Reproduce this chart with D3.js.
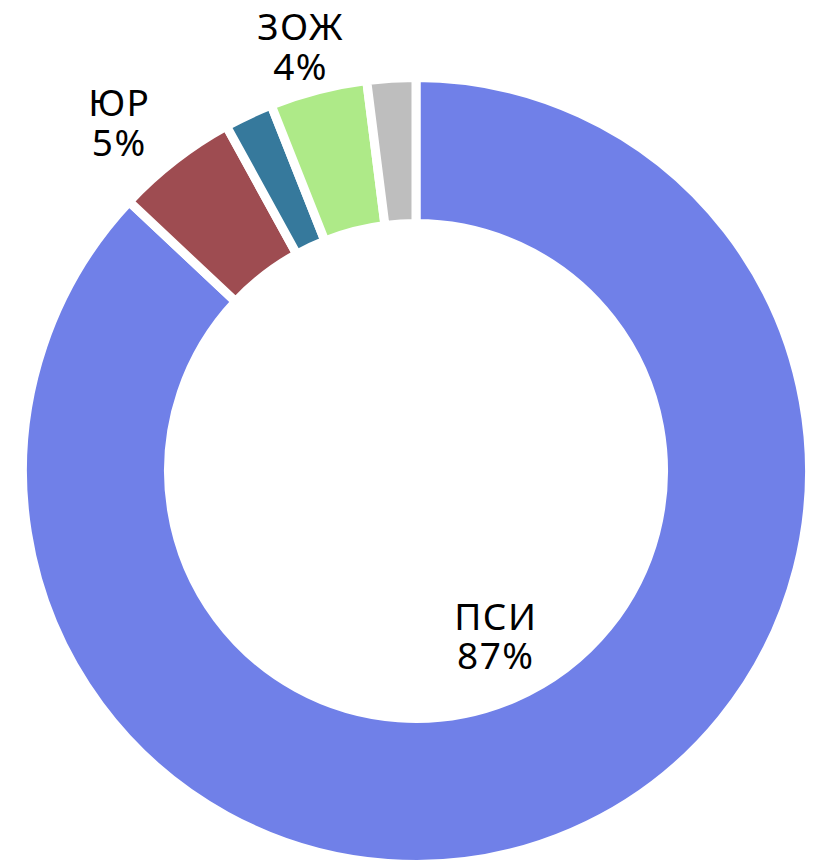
<!DOCTYPE html>
<html>
<head>
<meta charset="utf-8">
<script src="https://cdn.jsdelivr.net/npm/d3@7/dist/d3.min.js"></script>
<style>
  html, body { margin: 0; padding: 0; background: #fff; }
  svg { display: block; }
</style>
</head>
<body>
<svg id="chart" width="826" height="863"></svg>
<script>
// Data
const categories = ["ПСИ", "ЮР", "Прочее 1", "ЗОЖ", "Прочее 2"];
const values = [87, 5, 2, 4, 2];
const colors = ["#7080e8", "#9e4c51", "#36799c", "#aeea88", "#bebebe"];
const showLabel = [true, true, false, true, false];

// Layout
const W = 826, H = 863;
const cx = 416, cy = 471;
const gap = 9;
const outerR = 389 + gap / 2, innerR = 252 - gap / 2;
const labelLayout = [
  { r: 183, shift: -2.2 },
  { r: 458, shift: -2.7 },
  null,
  { r: 440, shift: -0.9 },
  null
];
const fontSize = 37, lineH = 39.5, letterSp = 1.5;

const svg = d3.select("#chart");
const g = svg.append("g").attr("transform", `translate(${cx},${cy})`);

const data = categories.map((c, i) => ({ name: c, value: values[i], color: colors[i], i }));
const pie = d3.pie().value(d => d.value).sort(null);
const arcs = pie(data);
const arc = d3.arc().innerRadius(innerR).outerRadius(outerR);

g.selectAll("path.slice")
  .data(arcs)
  .join("path")
  .attr("class", "slice")
  .attr("d", arc)
  .attr("fill", d => d.data.color)
  .attr("stroke", "#fff")
  .attr("stroke-width", gap)
  .attr("stroke-linejoin", "miter");

const total = d3.sum(values);
const labels = g.selectAll("g.label")
  .data(arcs.filter(d => showLabel[d.data.i]))
  .join("g")
  .attr("class", "label")
  .attr("transform", d => {
    const L = labelLayout[d.data.i];
    const a = (d.startAngle + d.endAngle) / 2 + L.shift * Math.PI / 180;
    return `translate(${Math.sin(a) * L.r},${-Math.cos(a) * L.r})`;
  });

labels.each(function(d) {
  const sel = d3.select(this);
  const pct = Math.round(d.data.value / total * 100) + "%";
  [d.data.name, pct].forEach((txt, k) => {
    sel.append("text")
      .attr("x", letterSp / 2)
      .attr("y", (k === 0 ? -lineH / 2 : lineH / 2) + fontSize * 0.36)
      .attr("text-anchor", "middle")
      .attr("font-family", "'Noto Sans', sans-serif")
      .attr("font-size", fontSize)
      .attr("letter-spacing", letterSp)
      .attr("fill", "#000")
      .text(txt);
  });
});
</script>
</body>
</html>
